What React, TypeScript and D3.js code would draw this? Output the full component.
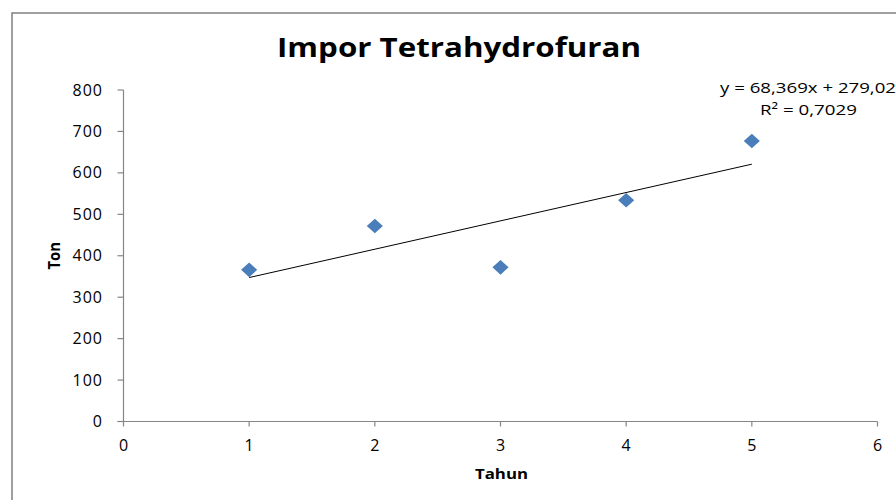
import React from "react";
import * as d3 from "d3";

const years = [1, 2, 3, 4, 5];
const tons = [366, 472, 372, 534, 677];
const xTicks = [0, 1, 2, 3, 4, 5, 6];
const yTicks = [0, 100, 200, 300, 400, 500, 600, 700, 800];
const title = "Impor Tetrahydrofuran";
const xLabel = "Tahun";
const yLabel = "Ton";
const eqLine1 = "y = 68,369x + 279,02";
const eqLine2 = "R² = 0,7029";

const W = 896;
const H = 500;
const FONT = "'Open Sans', 'Liberation Sans', sans-serif";

export default function App() {
  const x = d3.scaleLinear().domain([0, 6]).range([123.5, 877.5]);
  const y = d3.scaleLinear().domain([0, 800]).range([421.5, 90]);

  // least squares trendline
  const mx = d3.mean(years)!;
  const my = d3.mean(tons)!;
  const slope =
    d3.sum(years.map((v, i) => (v - mx) * (tons[i] - my))) /
    d3.sum(years.map((v) => (v - mx) * (v - mx)));
  const intercept = my - slope * mx;
  const x0 = d3.min(years)!;
  const x1 = d3.max(years)!;
  const trend = d3.line<number>()
    .x((d) => x(d))
    .y((d) => y(slope * d + intercept))([x0, x1]);

  const diamond = d3.symbol().type(d3.symbolDiamond2).size(150)();

  return (
    <svg
      width={W}
      height={H}
      style={{ position: "absolute", left: 0, top: 0, background: "#fff" }}
      fontFamily={FONT}
    >
      <rect x={0} y={0} width={W} height={H} fill="#fff" />
      <rect x={12} y={13} width={W + 20} height={H + 20} fill="none" stroke="#888" strokeWidth={1.6} />

      <text
        x={277}
        y={57}
        fontSize={26}
        fontWeight={700}
        fill="#000"
        textLength={364}
        lengthAdjust="spacingAndGlyphs"
      >
        {title}
      </text>

      {/* y axis */}
      <line x1={x(0)} x2={x(0)} y1={y(800)} y2={y(0)} stroke="#868686" strokeWidth={1.2} />
      {yTicks.map((t) => (
        <g key={"y" + t}>
          <line x1={x(0) - 6} x2={x(0)} y1={y(t)} y2={y(t)} stroke="#868686" strokeWidth={1.2} />
          <text x={103} y={y(t) + 5.5} textAnchor="end" fontSize={16} letterSpacing={1} fill="#000">
            {t}
          </text>
        </g>
      ))}

      {/* x axis */}
      <line x1={x(0) - 6} x2={x(6)} y1={y(0)} y2={y(0)} stroke="#868686" strokeWidth={1.2} />
      {xTicks.map((t) => (
        <g key={"x" + t}>
          <line x1={x(t)} x2={x(t)} y1={y(0)} y2={y(0) + 5} stroke="#868686" strokeWidth={1.2} />
          <text x={x(t)} y={451} textAnchor="middle" fontSize={16} fill="#000">
            {t}
          </text>
        </g>
      ))}

      <text
        x={475}
        y={479}
        fontSize={15}
        fontWeight={700}
        fill="#000"
        textLength={53}
        lengthAdjust="spacingAndGlyphs"
      >
        {xLabel}
      </text>
      <text
        transform={`translate(60,269.5) rotate(-90)`}
        fontSize={16}
        fontWeight={700}
        fill="#000"
        textLength={27.5}
        lengthAdjust="spacingAndGlyphs"
      >
        {yLabel}
      </text>

      {/* trendline */}
      <path d={trend ?? ""} fill="none" stroke="#000" strokeWidth={1} />

      {/* points */}
      {years.map((v, i) => (
        <path
          key={"p" + i}
          d={diamond ?? ""}
          transform={`translate(${x(v)},${y(tons[i])}) scale(1.05,0.95)`}
          fill="#4a7ebb"
        />
      ))}

      {/* equation */}
      <text x={720} y={93} fontSize={15} fill="#000" textLength={176} lengthAdjust="spacingAndGlyphs">
        {eqLine1}
      </text>
      <text x={760} y={115} fontSize={15} fill="#000" textLength={97} lengthAdjust="spacingAndGlyphs">
        {eqLine2}
      </text>
    </svg>
  );
}
